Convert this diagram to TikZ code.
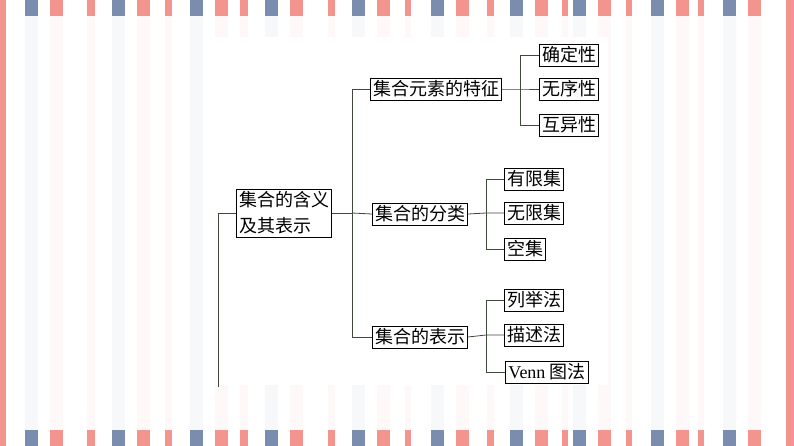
\documentclass[tikz,border=0pt]{standalone}
\usepackage{fontspec}
\newfontfamily\cjk{Noto Sans CJK SC}
\setmainfont{Liberation Serif}
\definecolor{pk}{HTML}{F4948E}
\definecolor{bl}{HTML}{7A8DAE}
\definecolor{ln}{HTML}{3E4A3A}
\begin{document}
\begin{tikzpicture}[x=0.75pt,y=-0.75pt,
  bx/.style={draw=black,line width=0.6pt,fill=white,inner sep=2pt,font=\fontsize{13.5}{19.5}\selectfont\cjk,align=left},
  cn/.style={draw=ln,line width=0.6pt}]
\useasboundingbox (0,0) rectangle (794,446);
\fill[white] (0,0) rectangle (794,446);
% stripes
\foreach \a/\b/\c in {25/38/bl,50/63/pk,87/95/pk,112/125/bl,137/150/pk,165/172/pk,190/203/bl,215/228/pk,240/248/pk,265/278/bl,290/303/pk,328/335/pk,352/365/bl,377/390/pk,405/411/pk,431/444/bl,456/469/pk,487/494/pk,510/523/bl,535/548/pk,562/568/pk,573/586/bl,598/611/pk,626/632/pk,651/664/bl,676/689/pk,698/704/pk,723/736/bl,748/761/pk}{
  \fill[\c!6] (\a,16) rectangle (\b,430);
  \fill[\c] (\a,0) rectangle (\b,16);
  \fill[\c] (\a,430) rectangle (\b,446);
}
\fill[pk] (0,0) rectangle (6,446);
\fill[pk] (786,0) rectangle (794,446);
\fill[white] (212,37) rectangle (608,385);
% nodes
\node[bx] (r) at (284,213) {集合的含义\\及其表示};
\node[bx] (a) at (436,89) {集合元素的特征};
\node[bx] (b) at (420,214) {集合的分类};
\node[bx] (c) at (420,337) {集合的表示};
\node[bx] (a1) at (569,55) {确定性};
\node[bx] (a2) at (569,89) {无序性};
\node[bx] (a3) at (569,125) {互异性};
\node[bx] (b1) at (534,179) {有限集};
\node[bx] (b2) at (534,213) {无限集};
\node[bx] (b3) at (525,249) {空集};
\node[bx] (c1) at (534,300) {列举法};
\node[bx] (c2) at (534,335) {描述法};
\node[bx] (c3) at (547,372) {{\rmfamily Venn} 图法};
\coordinate (rb) at (218,387);
% connectors
\draw[cn] (rb) -- (218,213) -- (r.west);
\draw[cn] (r.east) -- (352,213);
\draw[cn] (a.west) -- (352,89) -- (352,337) -- (c.west);
\draw[cn] (352,213) -- (b.west);
\draw[cn] (a.east) -- (520,89) -- (a2.west);
\draw[cn] (a1.west) -- (520,55) -- (520,125) -- (a3.west);
\draw[cn] (b.east) -- (486,213) -- (b2.west);
\draw[cn] (b1.west) -- (486,179) -- (486,249) -- (b3.west);
\draw[cn] (c.east) -- (486,335) -- (c2.west);
\draw[cn] (c1.west) -- (486,300) -- (486,372) -- (c3.west);
\end{tikzpicture}
\end{document}
